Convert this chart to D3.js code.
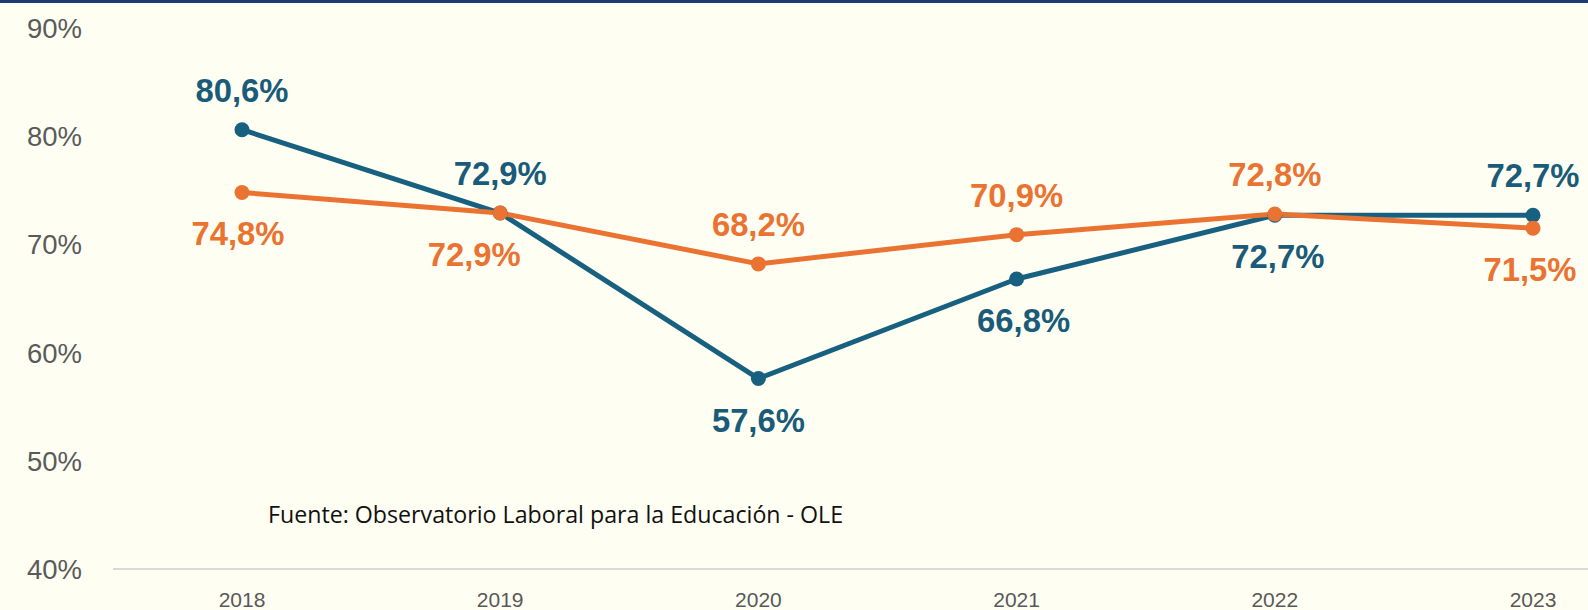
<!DOCTYPE html>
<html>
<head>
<meta charset="utf-8">
<script src="https://cdn.jsdelivr.net/npm/d3@7"></script>
<style>
  html, body { margin: 0; padding: 0; background: #fefef2; }
  svg { display: block; }
</style>
</head>
<body>
<svg id="chart" width="1588" height="610"></svg>
<script>
const years = ["2018", "2019", "2020", "2021", "2022", "2023"];
const seriesBlue = [80.6, 72.9, 57.6, 66.8, 72.7, 72.7];
const seriesOrange = [74.8, 72.9, 68.2, 70.9, 72.8, 71.5];
const labelPosBlue = ["above", "above", "below", "below", "below", "above"];
const labelPosOrange = ["below", "below", "above", "above", "above", "below"];
const yTicks = [40, 50, 60, 70, 80, 90];
const sourceText = "Fuente: Observatorio Laboral para la Educación - OLE";

const W = 1588, H = 610;
const svg = d3.select("#chart");
const blue = "#18607f", blueText = "#195b79";
const orange = "#ea7332";

svg.append("rect").attr("width", W).attr("height", H).attr("fill", "#fefef2");
svg.append("rect").attr("width", W).attr("height", 3).attr("fill", "#1d3a78");

const x = d3.scalePoint().domain(years).range([242, 1533]);
const y = d3.scaleLinear().domain([40, 90]).range([569, 28]);

// y tick labels
svg.append("g").selectAll("text").data(yTicks).join("text")
  .attr("x", 82).attr("y", d => y(d))
  .attr("dy", "0.36em")
  .attr("text-anchor", "end")
  .attr("font-family", "Liberation Sans, Arial, sans-serif")
  .attr("font-size", 27.5)
  .attr("fill", "#5a5a5a")
  .text(d => d + "%");

// x axis line
svg.append("line").attr("x1", 113).attr("x2", W).attr("y1", y(40)).attr("y2", y(40))
  .attr("stroke", "#d9d9d9").attr("stroke-width", 2);

// x labels
svg.append("g").selectAll("text").data(years).join("text")
  .attr("x", d => x(d)).attr("y", 606.5)
  .attr("text-anchor", "middle")
  .attr("font-family", "Liberation Sans, Arial, sans-serif")
  .attr("font-size", 21)
  .attr("fill", "#595959")
  .text(d => d);

// source
svg.append("text").attr("x", 268).attr("y", 523)
  .attr("font-family", "Open Sans, Liberation Sans, sans-serif")
  .attr("font-size", 23.2)
  .attr("fill", "#111")
  .text(sourceText);

function drawSeries(vals, color, pos, dxs) {
  const data = years.map((yr, i) => ({ yr, v: vals[i], pos: pos[i], dx: dxs[i] }));
  const line = d3.line().x(d => x(d.yr)).y(d => y(d.v));
  svg.append("path").datum(data).attr("d", line)
    .attr("fill", "none").attr("stroke", color).attr("stroke-width", 5)
    .attr("stroke-linejoin", "round");
  return data;
}
function drawMarkers(data, color) {
  svg.append("g").selectAll("circle").data(data).join("circle")
    .attr("cx", d => x(d.yr)).attr("cy", d => y(d.v)).attr("r", 7.5)
    .attr("fill", color);
}
function drawLabels(data, textColor) {
  svg.append("g").selectAll("text").data(data).join("text")
    .attr("x", d => x(d.yr) + d.dx)
    .attr("y", d => d.pos === "above" ? y(d.v) - 28 : y(d.v) + 53)
    .attr("text-anchor", "middle")
    .attr("font-family", "Liberation Sans, Arial, sans-serif")
    .attr("font-weight", "bold")
    .attr("font-size", 32.8)
    .attr("fill", textColor)
    .text(d => d3.format(".1f")(d.v).replace(".", ",") + "%");
}

const dBlue = drawSeries(seriesBlue, blue, labelPosBlue, [0, 0, 0, 7, 3, 0]);
const dOrange = drawSeries(seriesOrange, orange, labelPosOrange, [-4, -26, 0, 0, 0, -3]);
drawMarkers(dBlue, blue);
drawMarkers(dOrange, orange);
drawLabels(dBlue, blueText);
drawLabels(dOrange, orange);
</script>
</body>
</html>
